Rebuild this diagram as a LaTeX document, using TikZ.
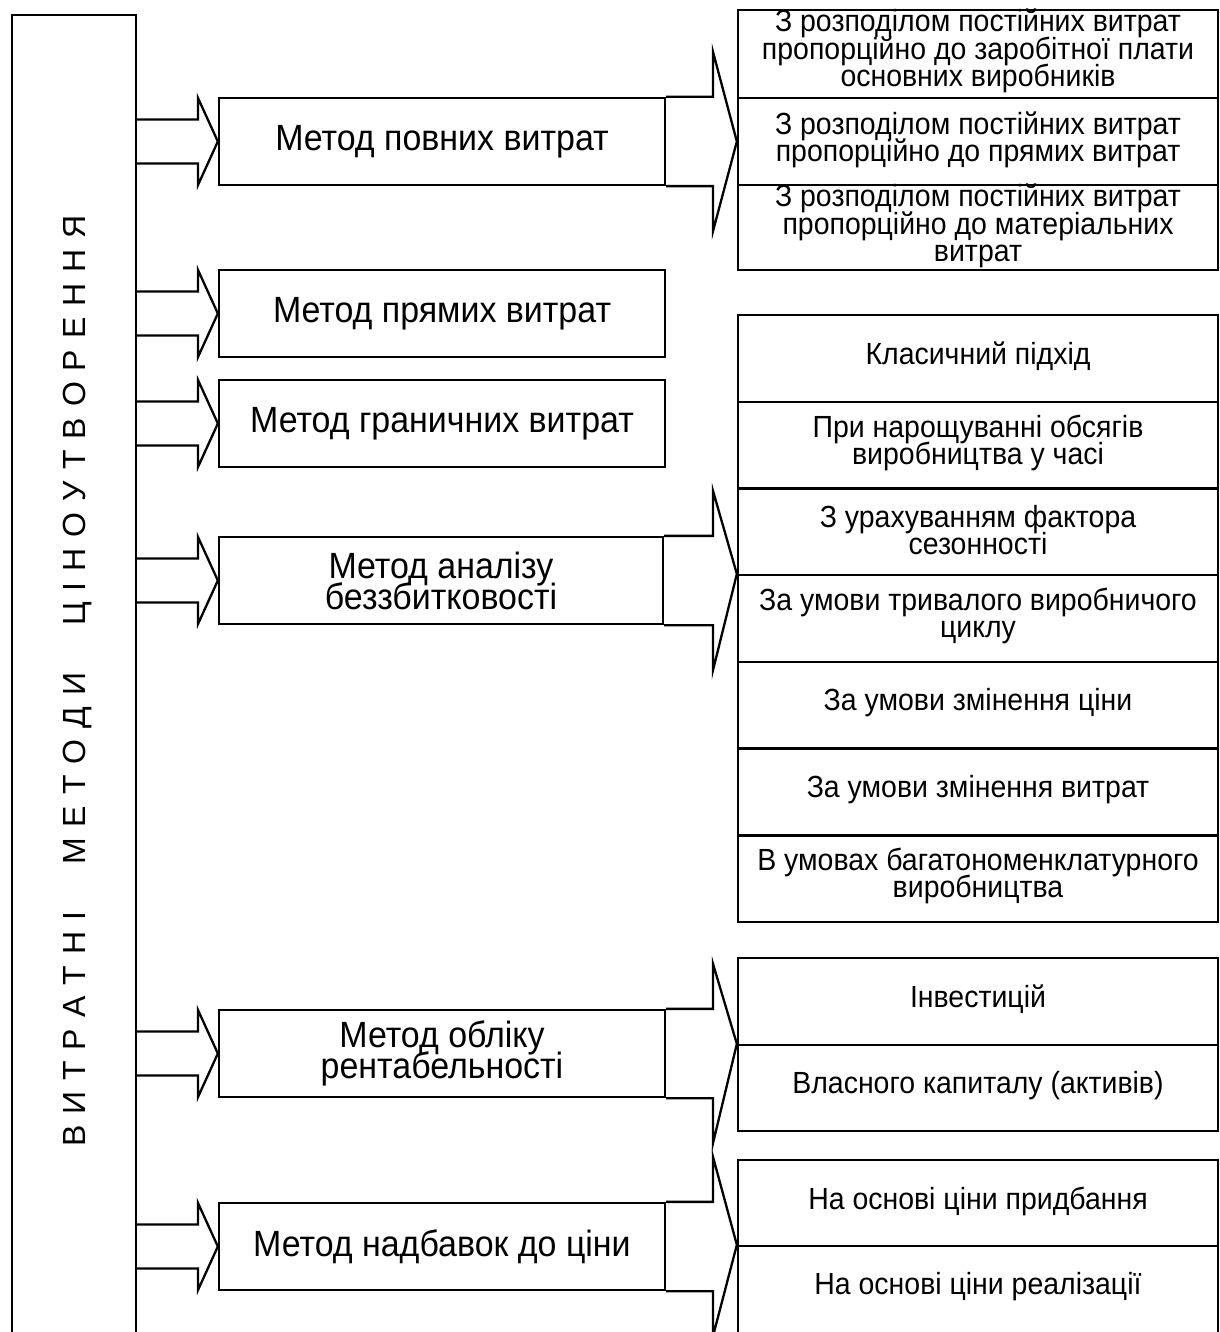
\documentclass[tikz,border=0pt]{standalone}
\usepackage{fontspec}
\setmainfont{Liberation Sans}[FakeStretch=0.93]
\newfontfamily\titlefont{Liberation Sans}
\usetikzlibrary{calc}
\newcommand\mainfnt{\fontsize{36.5}{31}\selectfont\lineskiplimit=-100pt\lineskip=0pt}
\newcommand\rfnt{\fontsize{30.6}{27.5}\selectfont\lineskiplimit=-100pt\lineskip=0pt}
\newcommand\LS{\kern11pt}
\tikzset{
  box/.style={draw, line width=2.3pt, rectangle, inner sep=0pt},
  mbox/.style={box, minimum width=446pt, minimum height=87pt, align=center, font=\mainfnt},
  rbox/.style={box, minimum width=480pt},
  rtext/.style={inner sep=0pt, align=center, font=\rfnt},
  arr/.style={draw, line width=2.3pt, line join=miter},
}
\newcommand\mkinarrow[1]{%
  \draw[arr] ($(main.east |- #1.west)+(0,-22)$) -- ($(lhx |- #1.west)+(0,-22)$)
    -- ($(lhx |- #1.west)+(0,-43.5)$) -- (#1.west) -- ($(lhx |- #1.west)+(0,43.5)$)
    -- ($(lhx |- #1.west)+(0,22)$) -- ($(main.east |- #1.west)+(0,22)$);}
\newcommand\mkoutarrow[2]{%
  \draw[arr] (#1.north east) -- (#1.north east -| hx) -- ($(#1.north east -| hx)+(0,-45)$)
    -- (#2) -- ($(#1.south east -| hx)+(0,45)$) -- (#1.south east -| hx) -- (#1.south east);}
\begin{document}
\begin{tikzpicture}[x=1pt,y=-1pt]
\useasboundingbox (0,0) rectangle (1219,1332);
\coordinate (lhx) at (198,0);
\coordinate (hx) at (713,0);
% left title box
\node[box, minimum width=124pt, minimum height=1330pt] (main) at (74,680) {};
\node[rotate=90, inner sep=0pt, text height=23pt, text depth=0pt,
      font=\titlefont\fontsize{32}{38}\selectfont] (title) at (74,681)
  {В\LS И\LS Т\LS Р\LS А\LS Т\LS Н\LS І\kern47pt М\LS Е\LS Т\LS О\LS Д\LS И\kern47pt Ц\LS І\LS Н\LS О\LS У\LS Т\LS В\LS О\LS Р\LS Е\LS Н\LS Н\LS Я};
% method boxes
\node[mbox] (m1) at (442,141.5) {Метод повних витрат};
\node[mbox] (m2) at (442,313.5) {Метод прямих витрат};
\node[mbox] (m3) at (442,423.5) {Метод граничних витрат};
\node[mbox, minimum width=444pt] (m4) at (441,580.5) {Метод аналізу\\беззбитковості};
\node[mbox] (m5) at (442,1053.5) {Метод обліку\\рентабельності};
\node[mbox] (m6) at (442,1246.5) {Метод надбавок до ціни};
% right boxes group A
\node[rbox, minimum height=88pt] (a1) at (978,54) {};
\node[rbox, minimum height=87pt] (a2) at (978,141.5) {};
\node[rbox, minimum height=85pt] (a3) at (978,227.5) {};
\node[rtext] (a1t) at (978,51) {З розподілом постійних витрат\\пропорційно до заробітної плати\\основних виробників};
\node[rtext] (a2t) at (978,140) {З розподілом постійних витрат\\пропорційно до прямих витрат};
\node[rtext] (a3t) at (978,226) {З розподілом постійних витрат\\пропорційно до матеріальних\\витрат};
% group B
\node[rbox, minimum height=86.7pt] (b1) at (978,358.4) {};
\node[rbox, minimum height=86.7pt] (b2) at (978,445.1) {};
\node[rbox, minimum height=86.7pt] (b3) at (978,531.8) {};
\node[rbox, minimum height=86.7pt] (b4) at (978,618.5) {};
\node[rbox, minimum height=86.7pt] (b5) at (978,705.2) {};
\node[rbox, minimum height=86.7pt] (b6) at (978,791.9) {};
\node[rbox, minimum height=86.7pt] (b7) at (978,878.7) {};
\node[rtext] (b1t) at (978,356) {Класичний підхід};
\node[rtext] (b2t) at (978,443) {При нарощуванні обсягів\\виробництва у часі};
\node[rtext] (b3t) at (978,530) {З урахуванням фактора\\сезонності};
\node[rtext] (b4t) at (978,616) {За умови тривалого виробничого\\циклу};
\node[rtext] (b5t) at (978,703) {За умови змінення ціни};
\node[rtext] (b6t) at (978,790) {За умови змінення витрат};
\node[rtext] (b7t) at (978,876) {В умовах багатономенклатурного\\виробництва};
% group C
\node[rbox, minimum height=87pt] (c1) at (978,1001.5) {};
\node[rbox, minimum height=86pt] (c2) at (978,1088) {};
\node[rtext] (c1t) at (978,999) {Інвестицій};
\node[rtext] (c2t) at (978,1086) {Власного капиталу (активів)};
% group D
\node[rbox, minimum height=86pt] (d1) at (978,1203) {};
\node[rbox, minimum height=96pt] (d2) at (978,1294) {};
\node[rtext] (d1t) at (978,1201) {На основі ціни придбання};
\node[rtext] (d2t) at (978,1287) {На основі ціни реалізації};
% arrows
\mkinarrow{m1}
\mkinarrow{m2}
\mkinarrow{m3}
\mkinarrow{m4}
\mkinarrow{m5}
\mkinarrow{m6}
\mkoutarrow{m1}{a2.west}
\mkoutarrow{m4}{b4.north west}
\mkoutarrow{m5}{c2.north west}
\mkoutarrow{m6}{d2.north west}
\end{tikzpicture}
\end{document}
